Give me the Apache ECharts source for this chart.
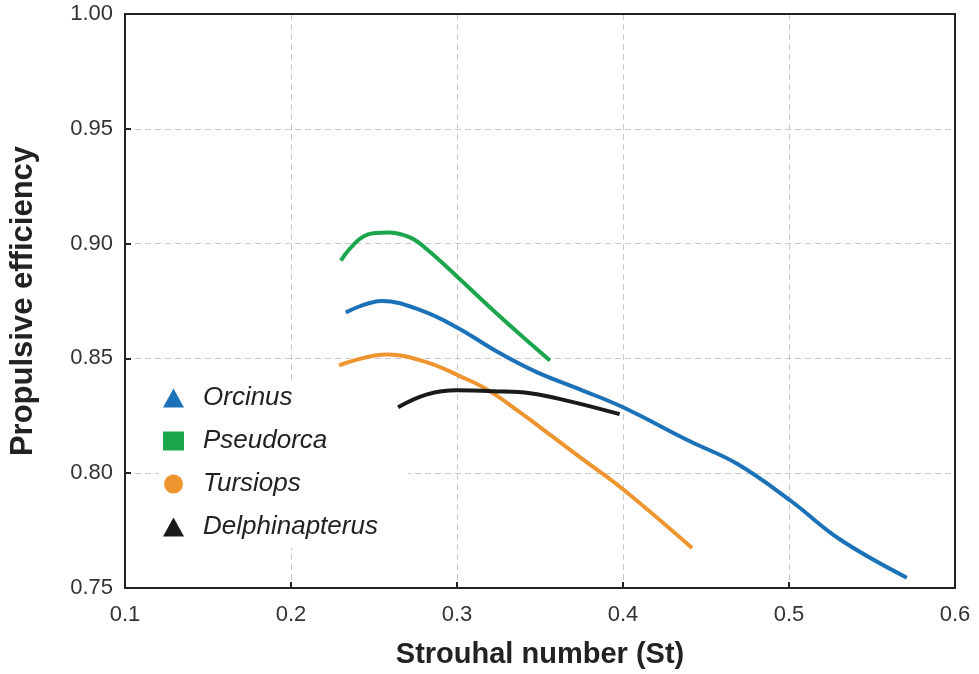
<!DOCTYPE html>
<html>
<head>
<meta charset="utf-8">
<script src="https://cdn.jsdelivr.net/npm/echarts@6/dist/echarts.min.js"></script>
<style>
  html, body { margin: 0; padding: 0; background: #fff; }
  #chart { width: 979px; height: 674px; }
</style>
</head>
<body>
<div id="chart"></div>
<script>
// Strouhal number (x) and propulsive efficiency (y)
const orcinusSt  = [0.233, 0.255, 0.278, 0.300, 0.324, 0.348, 0.374, 0.400, 0.440, 0.469, 0.501, 0.531, 0.571];
const orcinusEff = [0.870, 0.875, 0.871, 0.8635, 0.853, 0.844, 0.8365, 0.8287, 0.814, 0.804, 0.788, 0.771, 0.7545];

const pseudorcaSt  = [0.230, 0.246, 0.258, 0.272, 0.282, 0.300, 0.318, 0.338, 0.356];
const pseudorcaEff = [0.8926, 0.9039, 0.9048, 0.9026, 0.8974, 0.8857, 0.8735, 0.8604, 0.8491];

const tursiopsSt  = [0.229, 0.258, 0.282, 0.302, 0.318, 0.338, 0.358, 0.374, 0.400, 0.4416];
const tursiopsEff = [0.847, 0.8517, 0.8483, 0.8422, 0.8365, 0.8265, 0.8157, 0.807, 0.793, 0.7674];

const delphSt  = [0.2645, 0.282, 0.300, 0.322, 0.344, 0.368, 0.398];
const delphEff = [0.8287, 0.8343, 0.8361, 0.8357, 0.8348, 0.8313, 0.8257];

const xTicks = [0.1, 0.2, 0.3, 0.4, 0.5, 0.6];
const yTicks = [0.75, 0.80, 0.85, 0.90, 0.95, 1.00];

const names  = ['Orcinus', 'Pseudorca', 'Tursiops', 'Delphinapterus'];
const colors = ['#1c72b8', '#1ca64c', '#ef9530', '#1a1a1a'];
const icons  = ['triangle', 'rect', 'circle', 'triangle'];

const pairs = (xs, ys) => xs.map((x, i) => [x, ys[i]]);
const seriesData = [
    pairs(orcinusSt, orcinusEff),
    pairs(pseudorcaSt, pseudorcaEff),
    pairs(tursiopsSt, tursiopsEff),
    pairs(delphSt, delphEff)
];

const chart = echarts.init(document.getElementById('chart'));
const fontFamily = '"Liberation Sans", Arial, sans-serif';
const frameLine = { lineStyle: { color: '#222', width: 2 } };
const gridDash = { lineStyle: { color: '#c9c9c9', type: [6, 4], width: 1 } };

// plain axes on top and right just to close the frame
const frameAxis = (extra) => Object.assign({
    type: 'value',
    axisLine: Object.assign({ show: true, onZero: false }, frameLine),
    axisTick: { show: false },
    axisLabel: { show: false },
    splitLine: { show: false }
}, extra);

chart.setOption({
    animation: false,
    textStyle: { fontFamily },
    grid: { left: 125, right: 24, top: 14, bottom: 85 },
    legend: {
        orient: 'vertical',
        left: 159, top: 381,
        itemWidth: 21, itemHeight: 19, itemGap: 17,
        backgroundColor: '#fff',
        padding: [4, 30, 8, 4],
        textStyle: { fontSize: 26, fontStyle: 'italic', color: '#222', fontFamily, padding: [0, 0, 0, 14] },
        data: names.map((n, i) => ({ name: n, icon: icons[i], itemStyle: { color: colors[i] } }))
    },
    xAxis: [{
        type: 'value',
        min: xTicks[0], max: xTicks[xTicks.length - 1], interval: 0.1,
        name: 'Strouhal number (St)',
        nameLocation: 'middle', nameGap: 52,
        nameTextStyle: { fontSize: 29, fontWeight: 'bold', color: '#222' },
        axisLine: frameLine,
        axisTick: { inside: true, length: 6, lineStyle: { color: '#222', width: 2 } },
        axisLabel: { fontSize: 22, color: '#333', margin: 16, formatter: v => v.toFixed(1) },
        splitLine: gridDash
    }, frameAxis({ position: 'top', min: 0.1, max: 0.6 })],
    yAxis: [{
        type: 'value',
        min: yTicks[0], max: yTicks[yTicks.length - 1], interval: 0.05,
        name: 'Propulsive efficiency',
        nameLocation: 'middle', nameGap: 86,
        nameTextStyle: { fontSize: 31, fontWeight: 'bold', color: '#222' },
        axisLine: frameLine,
        axisTick: { inside: true, length: 6, lineStyle: { color: '#222', width: 2 } },
        axisLabel: { fontSize: 22, color: '#333', margin: 12, formatter: v => v.toFixed(2) },
        splitLine: gridDash
    }, frameAxis({ position: 'right', min: 0.75, max: 1.0 })],
    // series sit above the legend's white box so the Delphinapterus start stays visible
    series: names.map((n, i) => ({
        name: n,
        type: 'line',
        data: seriesData[i],
        smooth: 0.4,
        showSymbol: false,
        color: colors[i],
        lineStyle: { color: colors[i], width: 4, cap: 'butt' },
        z: i === 1 ? 6 : 5
    }))
});
</script>
</body>
</html>
